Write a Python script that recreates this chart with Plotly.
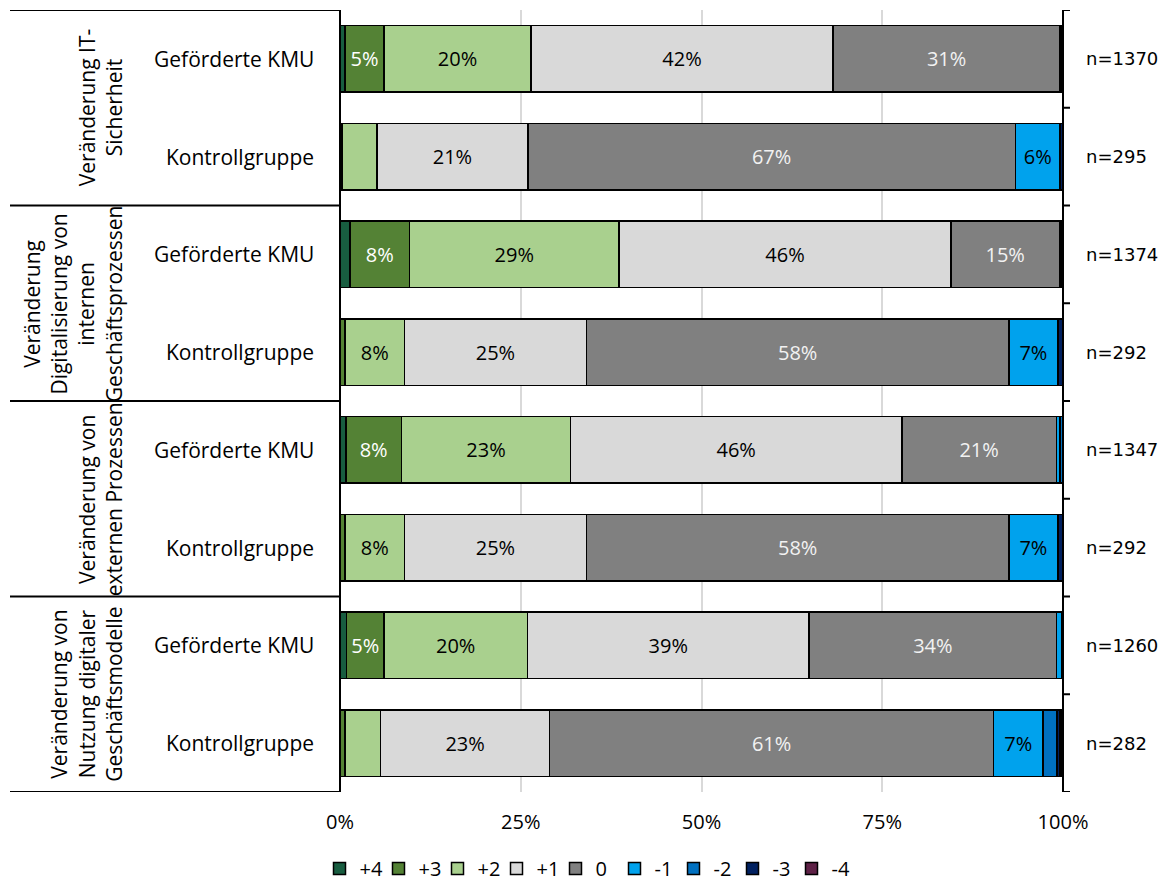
import plotly.graph_objects as go

# ---------------- data ----------------
groups = [
    "Veränderung IT-<br>Sicherheit",
    "Veränderung<br>Digitalisierung von<br>internen<br>Geschäftsprozessen",
    "Veränderung von<br>externen Prozessen",
    "Veränderung von<br>Nutzung digitaler<br>Geschäftsmodelle",
]
subgroups = ["Geförderte KMU", "Kontrollgruppe"] * 4
n_labels = ["n=1370", "n=295", "n=1374", "n=292", "n=1347", "n=292", "n=1260", "n=282"]
levels = ["+4", "+3", "+2", "+1", "0", "-1", "-2", "-3", "-4"]

p4 = [0.7, 0.0, 1.4, 0.0, 0.8, 0.0, 0.9, 0.0]
p3 = [5.4, 0.3, 8.2, 0.7, 7.7, 0.7, 5.2, 0.7]
p2 = [20.3, 4.8, 29.0, 8.2, 23.4, 8.2, 19.8, 4.9]
p1 = [41.8, 20.9, 45.9, 25.2, 45.8, 25.2, 39.0, 23.4]
z0 = [31.4, 67.4, 15.0, 58.4, 21.4, 58.4, 34.2, 61.4]
m1 = [0.2, 6.2, 0.2, 6.8, 0.5, 6.8, 0.7, 6.8]
m2 = [0.2, 0.0, 0.3, 0.0, 0.3, 0.0, 0.2, 2.0]
m3 = [0.0, 0.5, 0.0, 0.7, 0.0, 0.7, 0.0, 0.4]
m4 = [0.0, 0.0, 0.0, 0.0, 0.0, 0.0, 0.0, 0.2]
series = [p4, p3, p2, p1, z0, m1, m2, m3, m4]

colors = ["#185d40", "#548235", "#a9d08e", "#d9d9d9", "#808080",
          "#00a2ed", "#0070c0", "#002060", "#5e2146"]
text_colors = ["white", "white", "black", "black", "#f2f2f2",
               "black", "white", "white", "white"]

# ---------------- figure ----------------
FONT = "Open Sans"
L, R, T, B = 340, 107, 10, 96
W, H = 1170, 888
PW = W - L - R
rows = list(range(len(subgroups)))

fig = go.Figure()
for lvl, vals, col, tcol in zip(levels, series, colors, text_colors):
    txt = [f"{round(v):d}%" if v >= 5 else "" for v in vals]
    fig.add_trace(go.Bar(
        y=rows, x=vals, orientation="h", name=lvl,
        marker=dict(color=col, line=dict(color="black", width=1.5)),
        width=0.68,
        text=txt, textposition="inside", insidetextanchor="middle",
        textangle=0, textfont=dict(color=tcol, size=20, family=FONT),
        hoverinfo="skip",
    ))

shapes = []
shapes.append(dict(type="line", xref="paper", yref="y", x0=0, x1=0, y0=-0.5, y1=7.5,
                   line=dict(color="black", width=2)))
shapes.append(dict(type="line", xref="paper", yref="y", x0=1, x1=1, y0=-0.5, y1=7.5,
                   line=dict(color="black", width=2)))
for i in range(len(rows) + 1):
    yb = i - 0.5
    shapes.append(dict(type="line", xref="paper", yref="y", x0=1, x1=1 + 7 / PW,
                       y0=yb, y1=yb, line=dict(color="black", width=2)))
for g in range(len(groups) + 1):
    yb = g * 2 - 0.5
    shapes.append(dict(type="line", xref="paper", yref="y", x0=(10 - L) / PW, x1=0,
                       y0=yb, y1=yb, line=dict(color="black", width=2)))

annotations = []
for i, (sg, nl) in enumerate(zip(subgroups, n_labels)):
    annotations.append(dict(xref="paper", yref="y", x=-24 / PW, y=i, text=sg,
                            showarrow=False, xanchor="right", yanchor="middle",
                            font=dict(family=FONT, size=21, color="black")))
    annotations.append(dict(xref="paper", yref="y", x=1 + 21 / PW, y=i, text=nl,
                            showarrow=False, xanchor="left", yanchor="middle",
                            font=dict(family="DejaVu Sans", size=18, color="black")))
for g, gl in enumerate(groups):
    annotations.append(dict(xref="paper", yref="y", x=(130 - L) / PW, y=g * 2 + 0.5,
                            text=gl, textangle=-90, showarrow=False,
                            xanchor="right", yanchor="middle", align="center",
                            font=dict(family=FONT, size=21, color="black")))

fig.update_layout(
    width=W, height=H,
    margin=dict(l=L, r=R, t=T, b=B, pad=0),
    barmode="stack", bargap=0.32,
    plot_bgcolor="white", paper_bgcolor="white",
    font=dict(family=FONT, size=20, color="black"),
    showlegend=True,
    legend=dict(orientation="h", xref="container", yref="container",
                x=0.5, xanchor="center", y=0.0, yanchor="bottom",
                traceorder="normal", itemwidth=30,
                entrywidth=14, entrywidthmode="pixels",
                font=dict(family=FONT, size=20)),
    uniformtext=dict(minsize=20, mode="show"),
    shapes=shapes, annotations=annotations,
)
fig.update_xaxes(range=[0, 100], tickvals=[0, 25, 50, 75, 100],
                 ticktext=["0%", "25%", "50%", "75%", "100%"],
                 showgrid=True, gridcolor="#d9d9d9", gridwidth=1.5,
                 zeroline=False, showline=False,
                 ticks="outside", ticklen=12, tickcolor="rgba(0,0,0,0)",
                 tickfont=dict(family=FONT, size=20))
fig.update_yaxes(range=[7.5, -0.5], showticklabels=False, showgrid=False,
                 zeroline=False, showline=False)

fig.write_html("out.html")
